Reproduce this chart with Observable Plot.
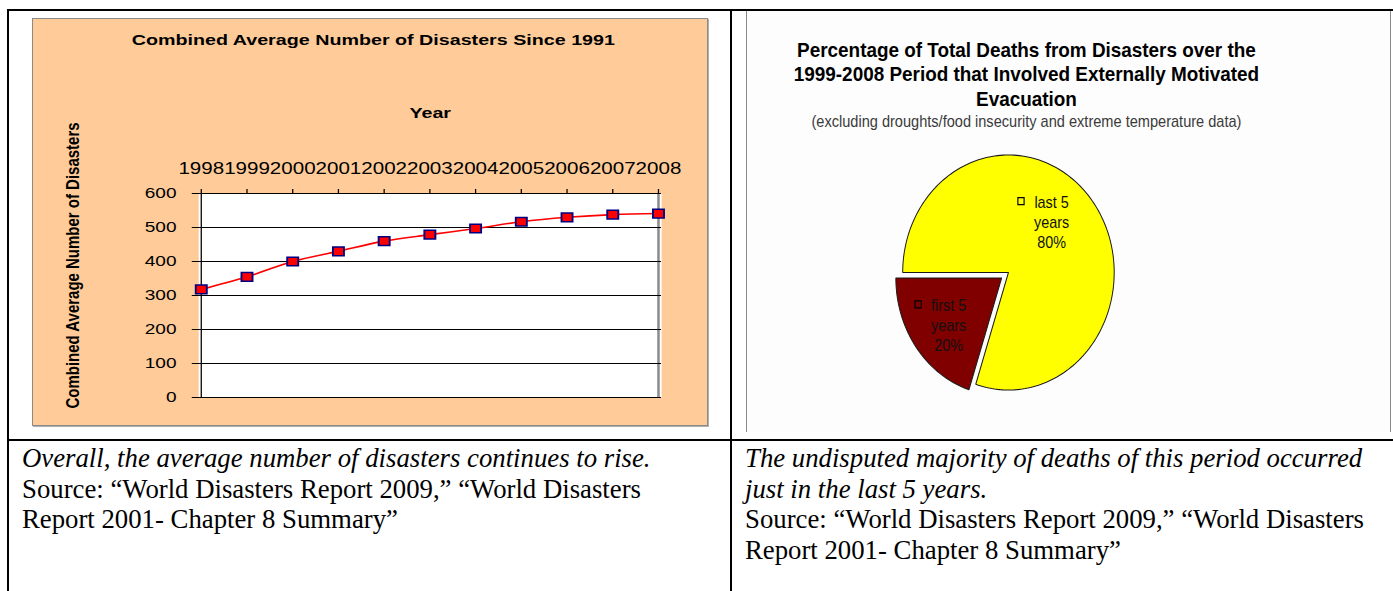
<!DOCTYPE html>
<html><head><meta charset="utf-8">
<script src="https://cdn.jsdelivr.net/npm/d3@7"></script>
<script src="https://cdn.jsdelivr.net/npm/@observablehq/plot@0.6"></script>
<style>
html,body{margin:0;padding:0;background:#fff;}
body{width:1393px;height:591px;position:relative;overflow:hidden;font-family:"Liberation Sans",Arial,sans-serif;}
.ln{position:absolute;background:#000;}
#lbox{position:absolute;left:32px;top:18px;width:676px;height:408px;background:#FFCC99;border:1px solid #8a8a8a;box-sizing:border-box;box-shadow:1px 1px 0 #b0b0b0;}
#lc{position:absolute;left:0;top:0;width:530px;height:406px;transform:scaleX(1.27);transform-origin:0 0;}
#ltitle{position:absolute;left:0;top:12px;width:536px;text-align:center;font-weight:bold;font-size:15.5px;line-height:18px;color:#000;white-space:nowrap;}
#lplot{position:absolute;left:0;top:50px;}
#rimg{position:absolute;left:746px;top:11px;width:643px;height:421px;background:#fdfdfd;border-left:1px solid #8a8a8a;border-right:1px solid #8a8a8a;}
#rc{position:absolute;left:0;top:0;width:712px;height:420px;transform:scaleX(0.9);transform-origin:0 0;}
#rtitle{position:absolute;left:0;top:26.75px;width:621px;text-align:center;font-weight:bold;font-size:21px;line-height:24.5px;color:#000;white-space:nowrap;}
#rsub{position:absolute;left:0;top:101px;width:621px;text-align:center;font-size:16.2px;line-height:18px;color:#3a3a3a;white-space:nowrap;}
#rplot{position:absolute;left:0;top:131px;}
.cap{position:absolute;top:443px;font-family:"Liberation Serif","Times New Roman",serif;font-size:26.75px;line-height:30.5px;color:#000;white-space:nowrap;}
</style>
</head>
<body>
<div class="ln" style="left:7px;top:9px;width:1386px;height:2px"></div>
<div class="ln" style="left:7px;top:9px;width:2px;height:582px"></div>
<div class="ln" style="left:730px;top:9px;width:2px;height:582px"></div>
<div class="ln" style="left:7px;top:439px;width:1386px;height:2px"></div>

<div id="lbox"><div id="lc"><div id="ltitle"></div><div id="lplot"></div></div></div>
<div id="rimg"><div id="rc"><div id="rtitle"></div><div id="rsub"></div><div id="rplot"></div></div></div>
<div class="cap" id="capL" style="left:22px"></div>
<div class="cap" id="capR" style="left:745px"></div>

<script>
// ---- data: line chart ----
const years = ["1998","1999","2000","2001","2002","2003","2004","2005","2006","2007","2008"];
const disasters = [318, 355, 400, 430, 460, 479, 497, 517, 530, 538, 541];
const yTicks = [0, 100, 200, 300, 400, 500, 600];
const lineTitle = "Combined Average Number of Disasters Since 1991";
const xTitle = "Year";
const yTitle = "Combined Average Number of Disasters";

// ---- data: pie chart ----
const slices = ["first 5 years", "last 5 years"];
const shares = [20, 80];
const sliceColors = ["#800000", "#FFFF00"];
const pieTitle = ["Percentage of Total Deaths from Disasters over the", "1999-2008 Period that Involved Externally Motivated", "Evacuation"];
const pieSubtitle = "(excluding droughts/food insecurity and extreme temperature data)";

// ---- captions ----
const capLeftItalic = ["Overall, the average number of disasters continues to rise."];
const capRightItalic = ["The undisputed majority of deaths of this period occurred", "just in the last 5 years."];
const capSource = ["Source: \u201cWorld Disasters Report 2009,\u201d \u201cWorld Disasters", "Report 2001- Chapter 8 Summary\u201d"];

// ---- line chart ----
document.getElementById("ltitle").textContent = lineTitle;
const lineData = years.map((y, i) => ({year: y, value: disasters[i]}));
const font = "Liberation Sans, Arial, sans-serif";
const lp = Plot.plot({
  width: 530, height: 355,
  marginLeft: 130, marginRight: 35.5, marginTop: 124, marginBottom: 27,
  style: {background: "transparent", fontFamily: font, color: "#000", overflow: "visible"},
  x: {type: "point", domain: years, padding: 0},
  y: {domain: [0, 600]},
  marks: [
    Plot.frame({fill: "#fff", stroke: "none"}),
    Plot.ruleX([years[years.length - 1]], {stroke: "#8c8c8c", strokeWidth: 2}),
    Plot.ruleY(yTicks, {stroke: "#000", strokeWidth: 1}),
    Plot.ruleX([years[0]], {stroke: "#000", strokeWidth: 1}),
    Plot.axisY(yTicks, {anchor: "left", tickSize: 5, tickPadding: 12.5, fontSize: 15, label: null}),
    Plot.axisX({anchor: "top", tickSize: 5, tickPadding: 15, fontSize: 16.2, label: null}),
    Plot.text([xTitle], {frameAnchor: "top", dy: -80, fontSize: 15.5, fontWeight: "bold", textAnchor: "middle", lineAnchor: "middle"}),
    Plot.text([yTitle], {frameAnchor: "left", rotate: -90, dx: -99, dy: -30, fontSize: 15, fontWeight: "bold", textAnchor: "middle", lineAnchor: "middle"}),
    Plot.line(lineData, {x: "year", y: "value", stroke: "#FF0000", strokeWidth: 1.6, curve: "catmull-rom"}),
    Plot.dot(lineData, {x: "year", y: "value", symbol: "square", r: 4.9, fill: "#FF0000", stroke: "#000080", strokeWidth: 1.5})
  ]
});
document.getElementById("lplot").appendChild(lp);

// ---- pie chart ----
document.getElementById("rtitle").innerHTML = pieTitle.join("<br>");
document.getElementById("rsub").textContent = pieSubtitle;
const PIE_START = 198;          // first slice starts here (degrees clockwise from 12 o'clock)
const EXPLODE = [0.08, 0];      // explosion of each slice (fraction of radius)
const LABEL_R = [0.65, 0.62];   // label distance along mid angle
const LABEL_D = [[3, 2], [-11, -8]];
const total = d3.sum(shares);
let acc = PIE_START;
const rad = Math.PI / 180;
const pie = slices.map((name, i) => {
  const a0 = acc, a1 = acc + shares[i] / total * 360; acc = a1;
  const mid = (a0 + a1) / 2 * rad;
  const ox = EXPLODE[i] * Math.sin(mid), oy = EXPLODE[i] * Math.cos(mid);
  const pts = [{x: ox, y: oy}];
  const n = Math.ceil((a1 - a0) / 1.5);
  for (let k = 0; k <= n; k++) {
    const a = (a0 + (a1 - a0) * k / n) * rad;
    pts.push({x: ox + Math.sin(a), y: oy + Math.cos(a)});
  }
  pts.push({x: ox, y: oy});
  return {
    name, share: shares[i], color: sliceColors[i], pts,
    lx: ox + LABEL_R[i] * Math.sin(mid), ly: oy + LABEL_R[i] * Math.cos(mid),
    text: name.replace(" years", "\nyears") + "\n" + shares[i] + "%",
    dx: LABEL_D[i][0], dy: LABEL_D[i][1]
  };
});
const R = 117.5, PW = 712, PH = 270, CX = 290, CY = 130;
const rp = Plot.plot({
  width: PW, height: PH,
  marginLeft: CX - R, marginRight: PW - CX - R, marginTop: CY - R, marginBottom: PH - CY - R,
  style: {background: "transparent", fontFamily: font, color: "#000", overflow: "visible"},
  x: {domain: [-1, 1], axis: null},
  y: {domain: [-1, 1], axis: null},
  marks: [
    ...pie.map(s => Plot.line(s.pts, {x: "x", y: "y", fill: s.color, stroke: "#1a1a1a", strokeWidth: 1.1, strokeLinejoin: "miter"})),
    ...pie.map(s => Plot.text([s], {x: "lx", y: "ly", text: "text", dx: s.dx, dy: s.dy, fontSize: 16, lineHeight: 1.25, textAnchor: "middle", lineAnchor: "middle", fill: "#111"})),
    ...pie.map(s => Plot.dot([s], {x: "lx", y: "ly", dx: s.dx - 34, dy: s.dy - 20.5, symbol: "square", r: 3.9, fill: "none", stroke: "#000", strokeWidth: 1.3}))
  ]
});
document.getElementById("rplot").appendChild(rp);

// ---- captions ----
function italic(lines){ return lines.map(l => "<i>" + l + "</i>").join("<br>"); }
document.getElementById("capL").innerHTML = italic(capLeftItalic) + "<br>" + capSource.join("<br>");
document.getElementById("capR").innerHTML = italic(capRightItalic) + "<br>" + capSource.join("<br>");
</script>
</body></html>
